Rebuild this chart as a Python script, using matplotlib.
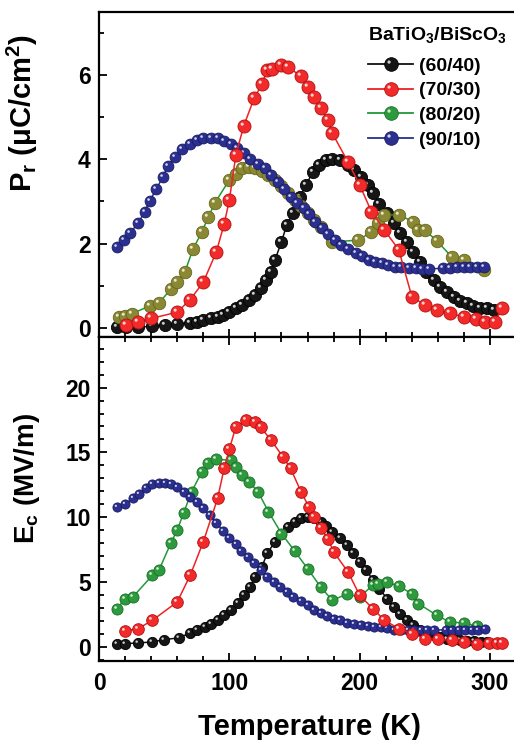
import numpy as np
import matplotlib.pyplot as plt
from matplotlib.path import Path
from matplotlib.lines import Line2D
from matplotlib.ticker import MultipleLocator

plt.rcParams['font.family'] = ['Liberation Sans', 'DejaVu Sans']
plt.rcParams['font.weight'] = 'bold'
plt.rcParams['mathtext.fontset'] = 'custom'
plt.rcParams['mathtext.rm'] = 'Liberation Sans:bold'
plt.rcParams['mathtext.it'] = 'Liberation Sans:bold'
plt.rcParams['mathtext.bf'] = 'Liberation Sans:bold'

# ---- Pr (top panel) ----
t_pr_6040 = [14, 21, 30, 41, 51, 60, 70, 75, 80, 86, 91, 95, 100, 105, 110, 115, 120, 124,
             128, 132, 135, 140, 144, 149, 154, 159, 164, 169, 174, 179, 185, 191, 196, 201,
             206, 210, 215, 221, 226, 231, 236, 241, 246, 251, 257, 262, 267, 272, 277, 282,
             287, 292, 298, 303]
pr_6040 = [0.02, 0.02, 0.02, 0.03, 0.06, 0.09, 0.12, 0.14, 0.18, 0.22, 0.26, 0.30, 0.38, 0.46,
           0.54, 0.66, 0.78, 0.94, 1.13, 1.33, 1.61, 2.04, 2.44, 2.73, 3.10, 3.39, 3.71, 3.86,
           3.98, 4.02, 3.98, 3.86, 3.75, 3.59, 3.39, 3.19, 2.95, 2.72, 2.48, 2.24, 2.04, 1.81,
           1.57, 1.33, 1.13, 0.97, 0.86, 0.74, 0.64, 0.58, 0.52, 0.48, 0.46, 0.42]

t_pr_7030 = [21, 30, 40, 60, 70, 80, 90, 96, 100, 105, 111, 119, 125, 129, 133, 140, 145, 155,
             160, 165, 170, 176, 179, 191, 200, 209, 219, 230, 240, 250, 259, 269, 280, 289,
             296, 304, 309]
pr_7030 = [0.06, 0.14, 0.22, 0.37, 0.67, 1.08, 1.80, 2.46, 3.03, 4.10, 4.79, 5.45, 5.78, 6.12,
           6.14, 6.24, 6.20, 5.97, 5.72, 5.49, 5.21, 4.93, 4.62, 3.94, 3.39, 2.76, 2.32, 1.85,
           0.74, 0.54, 0.42, 0.34, 0.26, 0.20, 0.14, 0.14, 0.46]

t_pr_8020 = [15, 20, 25, 39, 46, 55, 60, 66, 72, 79, 84, 89, 100, 105, 110, 115, 120, 125, 130,
             135, 140, 145, 150, 155, 160, 165, 170, 179, 199, 209, 214, 219, 230, 241, 245,
             250, 259, 271, 280, 295]
pr_8020 = [0.26, 0.29, 0.33, 0.52, 0.59, 0.91, 1.09, 1.33, 1.86, 2.28, 2.64, 2.97, 3.51, 3.65,
           3.79, 3.81, 3.79, 3.72, 3.62, 3.50, 3.36, 3.20, 3.04, 2.88, 2.72, 2.56, 2.40, 2.04,
           2.08, 2.28, 2.48, 2.68, 2.68, 2.52, 2.32, 2.32, 2.07, 1.67, 1.61, 1.37]

t_pr_9010 = [14, 19, 24, 30, 35, 39, 44, 49, 53, 58, 64, 70, 75, 80, 86, 91, 96, 101, 106, 111,
             116, 122, 127, 132, 137, 142, 147, 152, 157, 161, 166, 171, 176, 181, 186, 191,
             197, 202, 207, 212, 217, 222, 227, 232, 238, 243, 248, 253, 264, 269, 275, 280,
             285, 290, 295]
pr_9010 = [1.91, 2.08, 2.26, 2.48, 2.76, 3.02, 3.29, 3.59, 3.84, 4.05, 4.24, 4.36, 4.46, 4.50,
           4.51, 4.50, 4.44, 4.36, 4.26, 4.14, 4.02, 3.90, 3.79, 3.63, 3.47, 3.29, 3.11, 2.96,
           2.84, 2.70, 2.52, 2.36, 2.22, 2.08, 1.96, 1.86, 1.78, 1.70, 1.62, 1.57, 1.53, 1.49,
           1.45, 1.44, 1.41, 1.41, 1.40, 1.40, 1.41, 1.43, 1.44, 1.45, 1.45, 1.45, 1.44]

# ---- Ec (bottom panel) ----
t_ec_6040 = [14, 20, 30, 41, 50, 61, 70, 75, 81, 86, 91, 96, 101, 107, 111, 116, 120, 125, 129,
             135, 140, 145, 150, 155, 160, 165, 170, 174, 179, 185, 190, 195, 200, 205, 210,
             215, 221, 226, 231, 236, 241, 246, 251, 257, 262, 267, 272, 277, 282, 288, 293, 298]
ec_6040 = [0.26, 0.26, 0.31, 0.39, 0.57, 0.70, 1.08, 1.29, 1.55, 1.80, 2.11, 2.45, 2.83, 3.40,
           3.99, 4.64, 5.36, 6.18, 7.21, 8.11, 8.75, 9.27, 9.66, 9.91, 10.04, 9.91, 9.66, 9.32,
           8.88, 8.37, 7.85, 7.21, 6.56, 5.92, 5.20, 4.50, 3.73, 3.09, 2.52, 2.06, 1.67, 1.34,
           1.08, 0.90, 0.75, 0.65, 0.58, 0.52, 0.48, 0.45, 0.42, 0.40]

t_ec_7030 = [20, 30, 41, 60, 70, 80, 91, 96, 100, 105, 113, 120, 124, 132, 141, 147, 155, 161,
             165, 170, 176, 180, 191, 200, 210, 219, 230, 240, 250, 260, 271, 280, 290, 299,
             305, 309]
ec_7030 = [1.24, 1.42, 2.06, 3.47, 5.53, 8.11, 11.45, 13.77, 15.24, 16.99, 17.50, 17.37, 16.94,
           15.96, 14.67, 13.77, 11.97, 10.81, 10.04, 9.14, 8.29, 7.34, 5.79, 3.99, 2.96, 2.06,
           1.42, 1.03, 0.65, 0.59, 0.52, 0.39, 0.26, 0.31, 0.31, 0.31]

t_ec_8020 = [14, 20, 26, 41, 46, 55, 60, 65, 71, 79, 84, 90, 101, 105, 110, 115, 122, 130, 140,
             150, 160, 170, 179, 190, 200, 210, 214, 221, 230, 240, 245, 259, 269, 280, 290]
ec_8020 = [2.96, 3.73, 3.86, 5.53, 5.92, 7.98, 9.01, 10.35, 11.97, 13.51, 14.16, 14.46, 14.41,
           13.90, 13.26, 12.74, 11.97, 10.43, 8.75, 7.41, 6.05, 4.63, 3.60, 4.07, 3.86, 4.76,
           4.89, 5.02, 4.68, 4.12, 3.35, 2.45, 1.93, 1.85, 1.60]

t_ec_9010 = [14, 20, 26, 31, 36, 41, 46, 51, 55, 60, 65, 70, 75, 80, 85, 90, 95, 100, 105, 109,
             114, 119, 124, 129, 134, 139, 144, 149, 155, 160, 165, 170, 175, 180, 185, 190,
             196, 201, 206, 211, 216, 221, 226, 232, 237, 242, 247, 252, 257, 266, 271, 276,
             281, 286, 291, 296]
ec_9010 = [10.81, 11.02, 11.45, 11.79, 12.23, 12.56, 12.66, 12.66, 12.56, 12.36, 11.97, 11.58,
           11.20, 10.68, 10.17, 9.58, 8.96, 8.44, 7.93, 7.41, 6.95, 6.44, 5.92, 5.41, 5.02,
           4.63, 4.25, 3.86, 3.55, 3.22, 2.88, 2.63, 2.37, 2.19, 2.06, 1.88, 1.80, 1.67, 1.60,
           1.55, 1.55, 1.49, 1.34, 1.29, 1.29, 1.29, 1.29, 1.29, 1.29, 1.34, 1.34, 1.34, 1.34,
           1.34, 1.34, 1.42]

labels = ['(60/40)', '(70/30)', '(80/20)', '(90/10)']

# small off-centre highlight so the markers look like shaded balls
circ = Path.circle(center=(-0.18, 0.18), radius=0.12)
shine = Path(np.vstack([[0.5, 0.0], circ.vertices]),
             [Path.MOVETO] + list(circ.codes))


def draw(ax, t, y, line_c, face, edge, ms, z):
    ax.plot(t, y, '-', color=line_c, lw=1.1, marker='o', ms=ms, mfc=face,
            mec=edge, mew=0.6, zorder=z)
    ax.plot(t, y, ls='none', marker=shine, ms=ms, mfc='white', mec='none',
            alpha=0.8, zorder=z + 0.5)


fig = plt.figure(figsize=(5.14, 7.4), dpi=100)
ax1 = fig.add_axes([99 / 514, 1 - 337 / 740, 421 / 514, 325 / 740])
ax2 = fig.add_axes([99 / 514, 1 - 661 / 740, 421 / 514, 324 / 740])

# top: Pr
draw(ax1, t_pr_6040, pr_6040, '#111111', '#161616', '#000000', 8.8, 2)
draw(ax1, t_pr_8020, pr_8020, '#1f9a35', '#8a8832', '#66661e', 9.0, 3)
draw(ax1, t_pr_9010, pr_9010, '#2a2f8c', '#2b3090', '#181b60', 7.8, 4)
draw(ax1, t_pr_7030, pr_7030, '#ee2222', '#f22a2a', '#b01010', 9.4, 5)

# bottom: Ec
draw(ax2, t_ec_6040, ec_6040, '#111111', '#161616', '#000000', 7.4, 2)
draw(ax2, t_ec_8020, ec_8020, '#22993a', '#2e9a3e', '#1b6e28', 8.0, 3)
draw(ax2, t_ec_9010, ec_9010, '#2a2f8c', '#2b3090', '#181b60', 6.6, 4)
draw(ax2, t_ec_7030, ec_7030, '#ee2222', '#f22a2a', '#b01010', 8.4, 5)

for ax in (ax1, ax2):
    ax.set_xlim(0, 323)
    ax.xaxis.set_major_locator(MultipleLocator(100))
    ax.xaxis.set_minor_locator(MultipleLocator(20))
    ax.tick_params(which='both', direction='in', width=1.3, labelsize=16.5, right=False)
    ax.tick_params(which='major', length=6)
    ax.tick_params(which='minor', length=3.5)
    ax.tick_params(axis='y', pad=6)
    ax.tick_params(axis='x', pad=8)
    for s in ax.spines.values():
        s.set_linewidth(1.6)
    ax.spines['right'].set_visible(False)

ax1.set_ylim(-0.22, 7.5)
ax1.yaxis.set_major_locator(MultipleLocator(2))
ax1.yaxis.set_minor_locator(MultipleLocator(1))
ax1.tick_params(axis='x', which='both', top=False, labelbottom=False)

ax2.set_ylim(-1.08, 23.9)
ax2.yaxis.set_major_locator(MultipleLocator(5))
ax2.yaxis.set_minor_locator(MultipleLocator(1))
ax2.tick_params(axis='x', which='both', top=True, labeltop=False)

ax1.set_ylabel(r'P$_\mathrm{r}$ ($\mathrm{\mu}$C/cm$^\mathrm{2}$)', fontsize=21, fontweight='bold')
ax1.yaxis.set_label_coords(-0.14, 0.69)
ax2.set_ylabel(r'E$_\mathrm{c}$ (MV/m)', fontsize=20, fontweight='bold')
ax2.yaxis.set_label_coords(-0.135, 0.565)
ax2.set_xlabel('Temperature (K)', fontsize=21, fontweight='bold', labelpad=13)

# legend
leg_style = [('#111111', '#161616', '#000000'),
             ('#ee2222', '#f22a2a', '#b01010'),
             ('#22993a', '#2e9a3e', '#1b6e28'),
             ('#2a2f8c', '#2b3090', '#181b60')]
handles = []
for lc, fc, ec in leg_style:
    h1 = Line2D([], [], color=lc, lw=1.3, marker='o', ms=9.8, mfc=fc, mec=ec, mew=0.6)
    h2 = Line2D([], [], ls='none', marker=shine, ms=9.8, mfc='white', mec='none', alpha=0.8)
    handles.append((h1, h2))

leg = ax1.legend(handles, labels, title=r'BaTiO$_\mathrm{3}$/BiScO$_\mathrm{3}$',
                 loc='upper right', bbox_to_anchor=(517 / 514, 1 - 15 / 740),
                 bbox_transform=fig.transFigure, frameon=False, fontsize=14,
                 title_fontproperties={'size': 14, 'weight': 'bold'},
                 handlelength=2.3, handletextpad=0.3, labelspacing=0.36,
                 borderpad=0.0, alignment='left')
leg._legend_box.sep = 9
for txt in leg.get_texts():
    txt.set_fontweight('bold')

fig.savefig('out.png', dpi=100)
